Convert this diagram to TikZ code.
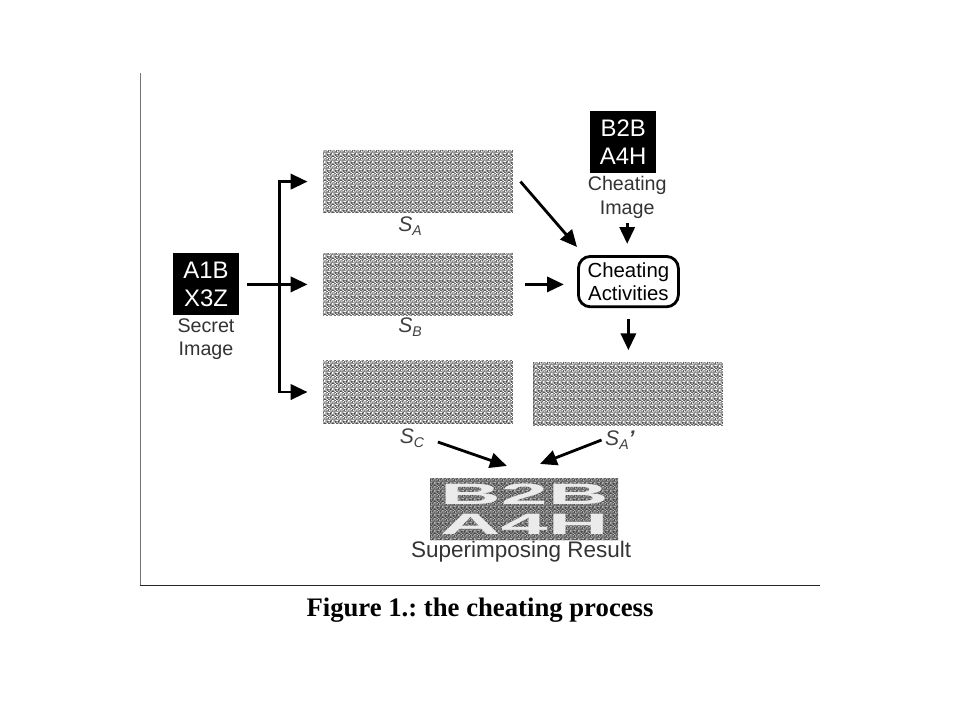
\documentclass[tikz,border=0pt]{standalone}
\usepackage{fontspec}
\setmainfont{Liberation Serif}
\setsansfont{Liberation Sans}
\usepackage{tikz}
\usetikzlibrary{shapes}
\usetikzlibrary{arrows.meta}
\usetikzlibrary{positioning}
\usetikzlibrary{patterns}
\usetikzlibrary{calc}
\newcommand{\partage}[1]{\textit{S}\raisebox{-0.35ex}{\fontsize{10}{10}\selectfont\textit{#1}}}
% grain of the shares
\pgfdeclarepatternformonly{bruit}{\pgfpointorigin}{\pgfqpoint{6pt}{6pt}}{\pgfqpoint{6pt}{6pt}}{
  \foreach \x/\y/\w/\h in {0/0/1.2/0.8,1.8/0.3/0.7/1.4,3.2/0/1.4/0.7,5/0.6/0.9/1,0.4/1.6/0.8/1.2,
    2.6/1.9/1.3/0.8,4.3/1.5/0.7/1.3,0/3.2/1.4/0.8,1.7/3.4/0.8/1.4,3.1/3/1.1/1,4.9/3.3/1/0.8,
    0.6/4.6/1/1.2,2.4/5/1.3/0.8,4/4.5/0.8/1.3,5.2/5/0.8/0.9}
  {\pgfpathrectangle{\pgfqpoint{\x pt}{\y pt}}{\pgfqpoint{\w pt}{\h pt}}}
  \pgfusepath{fill}
}
\tikzstyle{image}=[
        rectangle,
        fill=black,
        text=white,
        font=\sffamily\fontsize{17}{20}\selectfont,
        align=center,
        inner sep=0pt,
        minimum width=1.65cm,
        minimum height=1.55cm
]
\tikzstyle{share}=[
        rectangle,
        preaction={fill=black!68},
        pattern=bruit,
        pattern color=white,
        minimum width=4.75cm,
        minimum height=1.58cm
]
\tikzstyle{legende}=[text=black!80,font=\sffamily\fontsize{14}{17}\selectfont,align=center,inner sep=1pt]
\tikzstyle{nom}=[text=black!75,font=\sffamily\fontsize{15}{17}\selectfont,inner sep=1pt]
\tikzstyle{activite}=[rectangle,draw,line width=2pt,rounded corners=0.3cm,minimum width=2.5cm,minimum height=1.26cm,inner sep=1pt]
\tikzstyle{suite}=[-{Triangle[length=0.42cm,width=0.38cm]},line width=2pt]

\begin{document}
\begin{tikzpicture}
\useasboundingbox (0,0) rectangle (24,-18);
\node[image] (sec) at (5.15,-7.11) {A1B\\X3Z};
\node[legende] (secl) at (5.15,-8.48) {Secret\\Image};
\node[share] (sA) at (10.45,-4.54) {};
\node[share] (sB) at (10.45,-7.11) {};
\node[share] (sC) at (10.45,-9.8) {};
\node[share] (sAp) at (15.71,-9.85) {};
\node[nom] (lA) at (10.25,-5.65) {\partage{A}};
\node[nom] (lB) at (10.25,-8.18) {\partage{B}};
\node[nom] (lC) at (10.3,-10.95) {\partage{C}};
\node[nom] (lAp) at (15.5,-11) {\partage{A}\textbf{\textit{'}}};
\node[image] (cheat) at (15.58,-3.56) {B2B\\A4H};
\node[legende] (cheatl) at (15.68,-4.93) {Cheating\\Image};
\node[activite] (act) at (15.71,-7.04) {\sffamily\fontsize{14.5}{17}\selectfont\shortstack{Cheating\\Activities}};
\node[rectangle,preaction={fill=black!72},pattern=bruit,pattern color=black!30,
      minimum width=4.7cm,minimum height=1.55cm,inner sep=0pt,text=white!92!black,align=center,
      font=\sffamily\bfseries\fontsize{21}{21}\selectfont] (res) at (13.11,-12.73)
      {\scalebox{2.85}[1]{B2B}\\\scalebox{2.85}[1]{A4H}};
\node[legende,font=\sffamily\fontsize{16}{19}\selectfont] (resl) at (13.03,-13.78) {Superimposing Result};
\node[font=\bfseries\fontsize{19}{22}\selectfont\frenchspacing] (titre) at (12,-15.25) {Figure 1.: the cheating process};
\coordinate (fourche) at (6.98,-7.11);
%cadre
\draw[black!55,line width=0.7pt] (3.51,-1.82) -- (3.51,-14.63);
\draw[black!85,line width=1pt] (3.51,-14.63) -- (20.5,-14.63);
%fleches
\draw[suite] ([xshift=0.2cm]sec.east) -- ([xshift=-0.38cm]sB.west);
\draw[suite] (fourche |- sC) -- (fourche |- sA) -- ([xshift=-0.38cm]sA.west);
\draw[suite] (fourche |- sB) -- (fourche |- sC) -- ([xshift=-0.38cm]sC.west);
\draw[suite] ([xshift=0.18cm]sA.east) -- ([yshift=0.2cm]act.north west);
\draw[suite,shorten >=0.33cm] ([xshift=0.3cm]sB.east) -- (act.west |- sB.east);
\draw[suite,shorten <=2pt,shorten >=0.28cm] (cheatl.south) -- (cheatl.south |- act.north);
\draw[suite,shorten <=0.28cm,shorten >=0.3cm] (act.south) -- (act.south |- sAp.north);
\draw[suite] ([xshift=0.3cm,yshift=-0.1cm]lC.east) -- ([xshift=-0.44cm,yshift=0.3cm]res.north);
\draw[suite] ([xshift=-0.05cm]lAp.west) -- ([xshift=0.39cm,yshift=0.35cm]res.north);
\end{tikzpicture}
\end{document}
